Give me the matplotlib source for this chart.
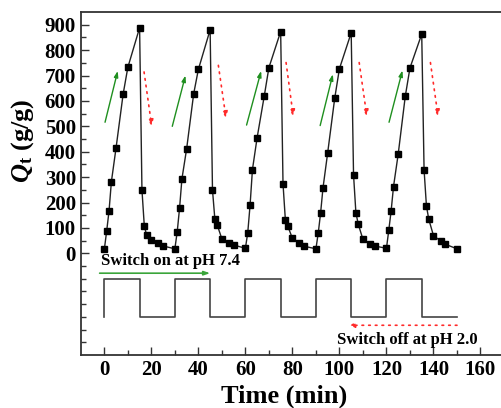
import matplotlib
matplotlib.use("Agg")
import matplotlib.pyplot as plt
import numpy as np

# ---- data ----
cycle_times_rise = [0, 1, 2, 3, 5, 8, 10, 15]
cycle_times_fall = [16, 17, 18, 20, 23, 25]
cycle_starts = [0, 30, 60, 90, 120]

rise_q = [
    [16, 88, 167, 282, 416, 627, 732, 888],
    [18, 85, 178, 293, 411, 628, 724, 880],
    [20, 81, 191, 330, 456, 618, 731, 873],
    [18, 81, 160, 257, 396, 611, 727, 868],
    [20, 92, 168, 263, 391, 618, 730, 863],
]
fall_q = [
    [250, 108, 71, 52, 39, 29],
    [250, 136, 112, 57, 41, 33],
    [274, 132, 108, 59, 42, 28],
    [309, 160, 115, 55, 37, 29],
    [329, 187, 134, 70, 49, 36],
]
end_q = 18
end_t = 150

# square wave (pH switching) levels
wave_t = [0, 0, 15, 15, 30, 30, 45, 45, 60, 60, 75, 75, 90, 90, 105, 105, 120, 120, 135, 135, 150]
wave_y = [-250, -100, -100, -250, -250, -100, -100, -250, -250, -100, -100, -250, -250, -100, -100, -250, -250, -100, -100, -250, -250]

green_arrows = [((0.3, 516), (5.7, 718)), ((28.9, 500), (34.5, 700)), ((60.5, 505), (66.7, 718)),
                ((91.8, 503), (97.2, 705)), ((121.1, 516), (126.8, 720))]
red_arrows = [((16.9, 714), (20.2, 498)), ((48.5, 740), (51.8, 530)), ((77.3, 751), (80.4, 537)),
              ((108.4, 751), (111.7, 537)), ((138.7, 751), (142.0, 537))]

xticks = [0, 20, 40, 60, 80, 100, 120, 140, 160]
yticks = [0, 100, 200, 300, 400, 500, 600, 700, 800, 900]

# build series
t_all, q_all = [], []
for s, rq, fq in zip(cycle_starts, rise_q, fall_q):
    t_all += [s + t for t in cycle_times_rise] + [s + t for t in cycle_times_fall]
    q_all += rq + fq
t_all.append(end_t)
q_all.append(end_q)

plt.rcParams['font.family'] = ['Liberation Serif', 'DejaVu Serif']
plt.rcParams['font.weight'] = 'bold'
plt.rcParams['mathtext.fontset'] = 'custom'
plt.rcParams['mathtext.rm'] = 'Liberation Serif:bold'
plt.rcParams['mathtext.it'] = 'Liberation Serif:italic:bold'
plt.rcParams['mathtext.bf'] = 'Liberation Serif:bold'

fig = plt.figure(figsize=(5.02, 4.08), dpi=100)
ax = fig.add_axes([0.161, 0.1299, 1.004 - 0.161, 0.9706 - 0.1299])

ax.plot(t_all, q_all, color='#222222', lw=1.0, marker='s', ms=4.5, mfc='black', mec='black')
ax.plot(wave_t, wave_y, color='#444444', lw=1.2)

for (a, b) in green_arrows:
    ax.annotate('', xy=b, xytext=a,
                arrowprops=dict(arrowstyle='-|>,head_length=0.35,head_width=0.12', color='#1f8f1f', lw=1.0,
                                shrinkA=0, shrinkB=0))
for (a, b) in red_arrows:
    ax.annotate('', xy=b, xytext=a,
                arrowprops=dict(arrowstyle='-|>,head_length=0.4,head_width=0.15', color='#ff2a2a', lw=1.2,
                                linestyle=(0, (1, 3)), shrinkA=0, shrinkB=0))

# switch annotations
ax.annotate('', xy=(45, -78), xytext=(-2, -78),
            arrowprops=dict(arrowstyle='-|>,head_length=0.35,head_width=0.12', color='#3aa53a', lw=1.2,
                            shrinkA=0, shrinkB=0))
ax.text(-1.5, -30, 'Switch on at pH 7.4', fontsize=12, fontweight='bold', ha='left', va='center')
ax.annotate('', xy=(103.7, -283), xytext=(150, -283),
            arrowprops=dict(arrowstyle='-|>,head_length=0.35,head_width=0.12', color='#ff2a2a', lw=1.2,
                            linestyle=(0, (1, 3)), shrinkA=0, shrinkB=0))
ax.text(99, -342, 'Switch off at pH 2.0', fontsize=12, fontweight='bold', ha='left', va='center')

ax.set_xlim(-10, 170)
ax.set_ylim(-400, 950)
ax.set_xticks(xticks)
ax.set_xticks(np.arange(10, 170, 20), minor=True)
ax.set_yticks(yticks)
ax.set_yticks(np.arange(-350, 950, 50), minor=True)
ax.tick_params(axis='both', which='both', direction='in', colors='#333333', labelcolor='black')
ax.tick_params(which='major', length=6, width=1.0, labelsize=15)
ax.tick_params(which='minor', length=3.5, width=1.0)
for lab in ax.get_xticklabels() + ax.get_yticklabels():
    lab.set_fontweight('bold')

for sp in ['left', 'bottom', 'top']:
    ax.spines[sp].set_linewidth(1.3)
    ax.spines[sp].set_color('#333333')
ax.spines['right'].set_visible(False)

ax.set_xlabel('Time (min)', fontsize=19, fontweight='bold', labelpad=2)
ax.xaxis.set_label_coords(0.48, -0.085)
ax.set_ylabel(r'$Q_{\rm t}$ (g/g)', fontsize=19, fontweight='bold')
ax.yaxis.set_label_coords(-0.105, 0.625)

fig.savefig('out.png', dpi=100)
